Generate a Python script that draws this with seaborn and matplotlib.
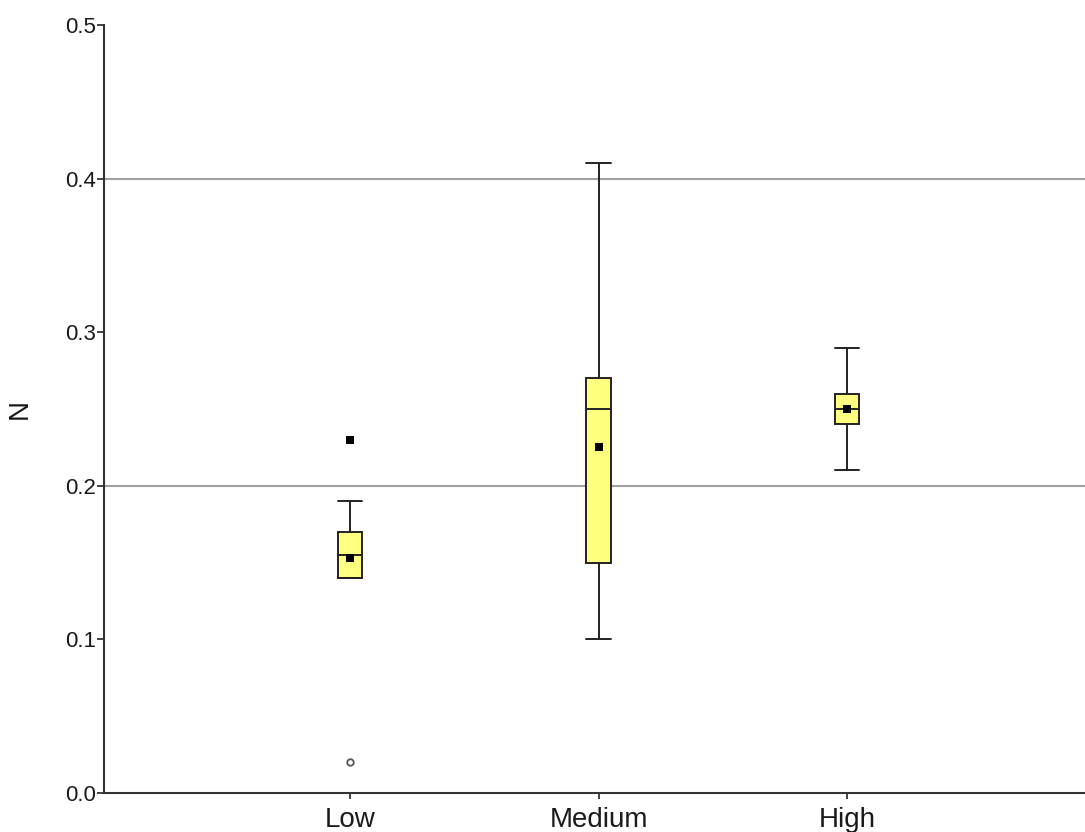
import numpy as np
import pandas as pd
import matplotlib
matplotlib.use("Agg")
import matplotlib.pyplot as plt
import seaborn as sns

categories = ["Low", "Medium", "High"]
whisker_low = [0.14, 0.10, 0.21]
q1 = [0.14, 0.15, 0.24]
medians = [0.155, 0.25, 0.25]
q3 = [0.17, 0.27, 0.26]
whisker_high = [0.19, 0.41, 0.29]
means = [0.153, 0.225, 0.25]
outlier_cat = ["Low"]
outlier_val = [0.02]
extreme_cat = ["Low"]
extreme_val = [0.23]
y_ticks = [0.0, 0.1, 0.2, 0.3, 0.4, 0.5]
grid_lines = [0.2, 0.4]

sns.set_style("white")
plt.rcParams["font.family"] = ["Liberation Sans", "DejaVu Sans"]

fig = plt.figure(figsize=(10.85, 8.32), dpi=100)
ax = fig.add_axes([104 / 1085, 39 / 832, 981 / 1085, 768 / 832])

for g in grid_lines:
    ax.axhline(g, color="#a0a0a0", lw=1.5, zorder=0)

pos = list(range(len(categories)))
stats = []
for i, c in enumerate(categories):
    stats.append(dict(label=c, whislo=whisker_low[i], q1=q1[i], med=medians[i],
                      q3=q3[i], whishi=whisker_high[i], fliers=[]))

edge = "#222222"
ax.bxp(stats, positions=pos, widths=0.1, patch_artist=True, showfliers=False,
       capwidths=0.1,
       boxprops=dict(facecolor="#ffff80", edgecolor=edge, lw=1.4),
       medianprops=dict(color=edge, lw=1.4),
       whiskerprops=dict(color=edge, lw=1.4),
       capprops=dict(color=edge, lw=1.4))

mean_df = pd.DataFrame({"x": pos, "y": means})
sns.scatterplot(data=mean_df, x="x", y="y", marker="s", s=40, color="black",
                edgecolor="black", linewidth=0, ax=ax, zorder=5)

ext_df = pd.DataFrame({"x": [categories.index(c) for c in extreme_cat], "y": extreme_val})
sns.scatterplot(data=ext_df, x="x", y="y", marker="s", s=40, color="black",
                edgecolor="black", linewidth=0, ax=ax, zorder=5)

out_df = pd.DataFrame({"x": [categories.index(c) for c in outlier_cat], "y": outlier_val})
sns.scatterplot(data=out_df, x="x", y="y", marker="o", s=22, facecolor="white",
                edgecolor="#555555", linewidth=1.3, ax=ax, zorder=5)

ax.set_xlim((104 - 350) / 248.5, (1085 - 350) / 248.5)
ax.set_ylim(0, 0.5)
ax.set_xticks(pos)
ax.set_xticklabels(categories, fontsize=20, color="#1a1a1a")
ax.set_yticks(y_ticks)
ax.set_yticklabels([f"{t:.1f}" for t in y_ticks], fontsize=16, color="#1a1a1a")
ax.tick_params(axis="y", left=True, direction="out", length=5, width=1.3,
               color="#333333", pad=1)
ax.tick_params(axis="x", bottom=True, direction="out", length=4, width=1.3,
               color="#333333", pad=6)
ax.set_xlabel("")
ax.set_ylabel("N", fontsize=20, color="#1a1a1a")
ax.yaxis.set_label_coords(-0.0724, 0.5)

for s in ["top", "right"]:
    ax.spines[s].set_visible(False)
for s in ["left", "bottom"]:
    ax.spines[s].set_color("#333333")
    ax.spines[s].set_linewidth(1.5)

fig.savefig("out.png", dpi=100)
